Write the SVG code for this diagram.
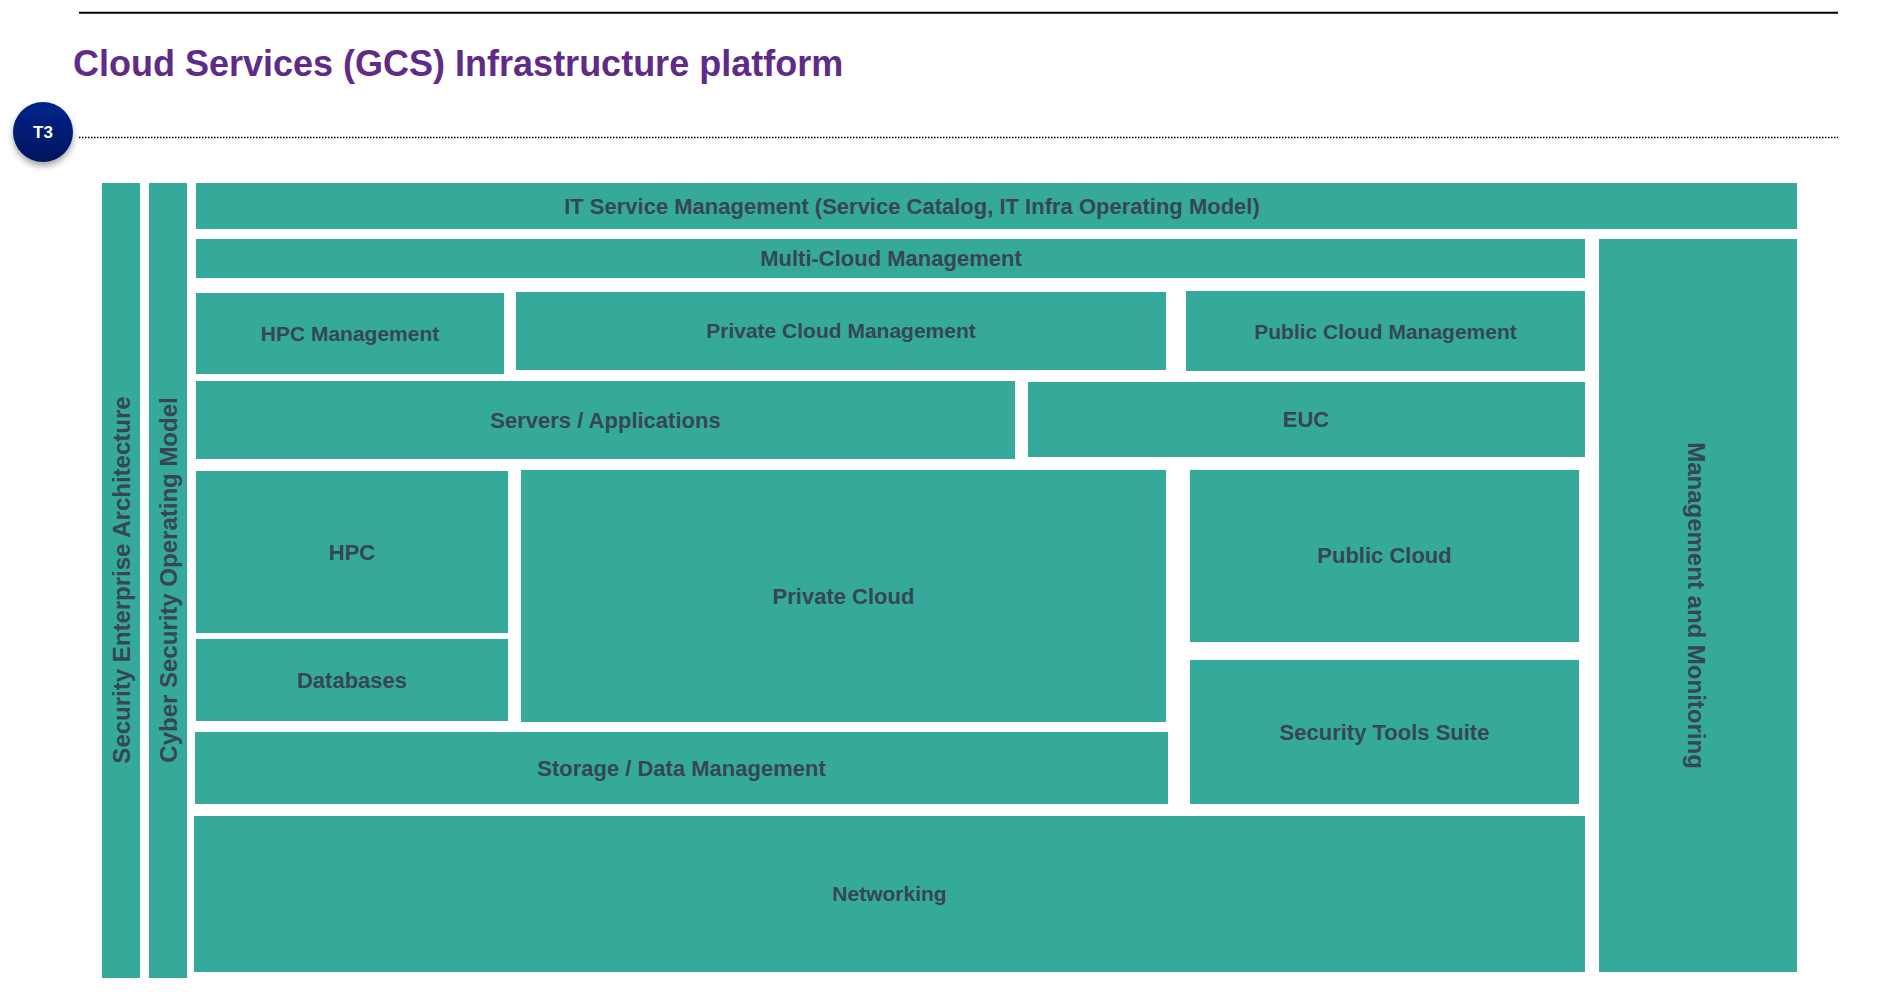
<svg xmlns="http://www.w3.org/2000/svg" width="1899" height="1008" viewBox="0 0 1899 1008">
  <style>
    .box { fill: #35AA9A; }
    .lbl { font-family: "Liberation Sans", Arial, sans-serif; font-weight: bold; font-size: 22px; fill: #374656; text-anchor: middle; }
    .sm { font-size: 21px; }
    .vlbl { font-family: "Liberation Sans", Arial, sans-serif; font-weight: bold; font-size: 24px; fill: #374656; text-anchor: middle; }
    .title { font-family: "Liberation Sans", Arial, sans-serif; font-weight: bold; font-size: 36px; fill: #5F2B87; }
  </style>
  <defs>
    <linearGradient id="navy" x1="0" y1="0" x2="0" y2="1">
      <stop offset="0" stop-color="#00238A"/>
      <stop offset="1" stop-color="#00155E"/>
    </linearGradient>
    <filter id="shadow" x="-50%" y="-50%" width="200%" height="200%">
      <feDropShadow dx="0" dy="4" stdDeviation="3" flood-color="#000000" flood-opacity="0.35"/>
    </filter>
  </defs>
  <rect width="1899" height="1008" fill="#FFFFFF"/>

  <g id="header">
    <line x1="79" y1="12.8" x2="1838" y2="12.8" stroke="#000000" stroke-width="2"/>
    <text class="title" x="73" y="76">Cloud Services (GCS) Infrastructure platform</text>
    <line x1="79" y1="137.5" x2="1838" y2="137.5" stroke="#000000" stroke-width="1.5" stroke-dasharray="1.5 1.5"/>
  </g>

  <g id="badge-t3">
    <circle cx="43" cy="132" r="30" fill="url(#navy)" filter="url(#shadow)"/>
    <text x="43" y="138" font-family="'Liberation Sans', Arial, sans-serif" font-weight="bold" font-size="17" fill="#FFFFFF" text-anchor="middle">T3</text>
  </g>

  <g id="connectors"></g>

  <g id="security-enterprise-architecture">
    <rect class="box" x="102" y="183" width="38" height="795"/>
    <text class="vlbl" transform="translate(130,580) rotate(-90)">Security Enterprise Architecture</text>
  </g>
  <g id="cyber-security-operating-model">
    <rect class="box" x="149" y="183" width="38" height="795"/>
    <text class="vlbl" transform="translate(177,580) rotate(-90)">Cyber Security Operating Model</text>
  </g>
  <g id="it-service-management">
    <rect class="box" x="196" y="183" width="1601" height="46"/>
    <text class="lbl" x="912" y="214">IT Service Management (Service Catalog, IT Infra Operating Model)</text>
  </g>
  <g id="multi-cloud-management">
    <rect class="box" x="196" y="239" width="1389" height="39"/>
    <text class="lbl" x="891" y="266">Multi-Cloud Management</text>
  </g>
  <g id="management-monitoring">
    <rect class="box" x="1599" y="239" width="198" height="733"/>
    <text class="vlbl" transform="translate(1688,605.5) rotate(90)">Management and Monitoring</text>
  </g>
  <g id="hpc-management">
    <rect class="box" x="196" y="293" width="308" height="81"/>
    <text class="lbl sm" x="350" y="341">HPC Management</text>
  </g>
  <g id="private-cloud-management">
    <rect class="box" x="516" y="292" width="650" height="78"/>
    <text class="lbl sm" x="841" y="338">Private Cloud Management</text>
  </g>
  <g id="public-cloud-management">
    <rect class="box" x="1186" y="291" width="399" height="80"/>
    <text class="lbl sm" x="1385.5" y="339">Public Cloud Management</text>
  </g>
  <g id="servers-applications">
    <rect class="box" x="196" y="381" width="819" height="78"/>
    <text class="lbl" x="605.5" y="428">Servers / Applications</text>
  </g>
  <g id="euc">
    <rect class="box" x="1028" y="382" width="557" height="75"/>
    <text class="lbl" x="1306" y="427">EUC</text>
  </g>
  <g id="hpc">
    <rect class="box" x="196" y="471" width="312" height="162"/>
    <text class="lbl" x="352" y="560">HPC</text>
  </g>
  <g id="databases">
    <rect class="box" x="196" y="639" width="312" height="82"/>
    <text class="lbl" x="352" y="688">Databases</text>
  </g>
  <g id="private-cloud">
    <rect class="box" x="521" y="470" width="645" height="252"/>
    <text class="lbl" x="843.5" y="604">Private Cloud</text>
  </g>
  <g id="public-cloud">
    <rect class="box" x="1190" y="470" width="389" height="172"/>
    <text class="lbl" x="1384.5" y="563">Public Cloud</text>
  </g>
  <g id="storage-data-management">
    <rect class="box" x="195" y="732" width="973" height="72"/>
    <text class="lbl" x="681.5" y="776">Storage / Data Management</text>
  </g>
  <g id="security-tools-suite">
    <rect class="box" x="1190" y="660" width="389" height="144"/>
    <text class="lbl" x="1384.5" y="740">Security Tools Suite</text>
  </g>
  <g id="networking">
    <rect class="box" x="194" y="816" width="1391" height="156"/>
    <text class="lbl sm" x="889.5" y="901">Networking</text>
  </g>
</svg>
